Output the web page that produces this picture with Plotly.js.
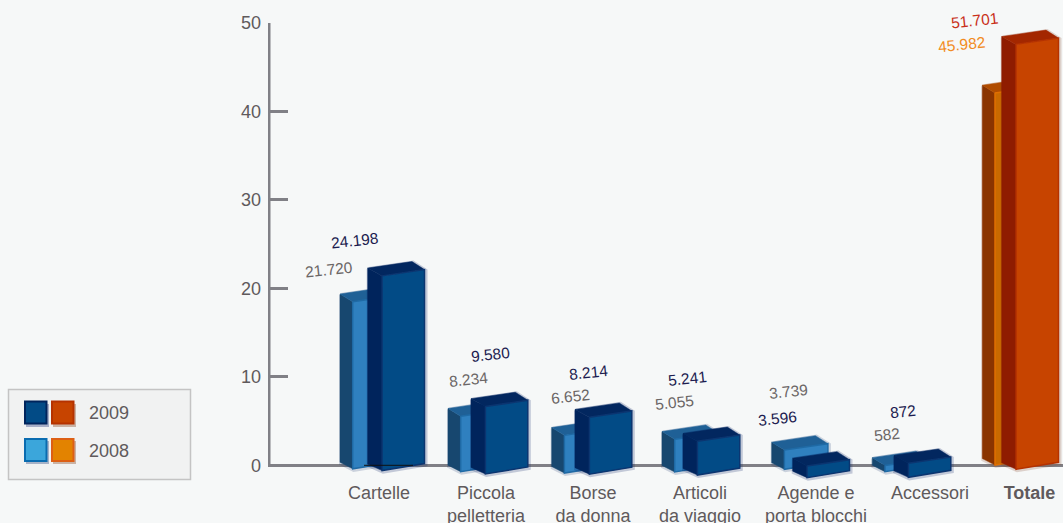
<!DOCTYPE html>
<html><head><meta charset="utf-8">
<script src="https://cdn.plot.ly/plotly-3.0.1.min.js"></script>
<style>html,body{margin:0;padding:0;background:#f6f8f8}#c{width:1063px;height:523px}</style>
</head><body><div id="c"></div>
<script>
// ---- data ----
const categories = ['Cartelle','Piccola<br>pelletteria','Borse<br>da donna','Articoli<br>da viaggio','Agende e<br>porta blocchi','Accessori','<b>Totale</b>'];
const labels2009 = ['24.198','9.580','8.214','5.241','3.596','872','51.701'];
const labels2008 = ['21.720','8.234','6.652','5.055','3.739','582','45.982'];
const top2009  = [23.03, 8.26, 7.05, 4.33, 1.54, 1.84, 49.2];
const base2009 = [-0.6, -0.98, -1.0, -1.1, -1.4, -1.36, -0.45];
const top2008  = [20.1, 7.16, 5.0, 4.56, 3.35, 1.6, 43.7];
const base2008 = [-0.4, -0.72, -0.87, -0.75, -0.45, -0.72, 0.03];
const yTicks = [0,10,20,30,40,50];
// ---- placement along the (pixel-scaled) x axis ----
const tickPos  = [379,486,593,700,816,930,1029.5];
const left2009 = [367.7,471,575,683,792.7,894,1001.7];
const left2008 = [340,448,551.7,662,771.7,872.3,982.3];
const label2009Pos = [[354.5,240],[490,354.5],[588,372],[687,378],[777,418],[903,411],[974,21]];
const label2008Pos = [[329,269],[468,379],[570,396],[674,402],[788,391],[887,434],[961,45]];

const W=1063,H=523,PL=268,PT=23,ZERO=465.3,PB=41;   // plot area runs past the zero line so the 3D feet are not clipped
const pxPerUnit=(ZERO-PT)/50;
const u=p=>p/pxPerUnit;
const px=x=>(x-PL)/(W-PL), py=y=>(H-PB-y)/(H-PB-PT);

const blue09={shadow:'rgba(10,30,100,0.22)',side:'#00245c',top:'#02275f',face:'#024b86',edge:'#0b3570'};
const blue08={shadow:'rgba(10,40,100,0.18)',side:'#17476f',top:'#1f6096',face:'#2f80bf',edge:'#1f6aa5'};
const org09={shadow:'rgba(120,50,20,0.20)',side:'#8f1c00',top:'#a32700',face:'#c74400',edge:'#b53200'};
const org08={shadow:'rgba(120,50,20,0.18)',side:'#8a3400',top:'#b04c00',face:'#c96a00',edge:'#e06f00'};

const traces=[];
function poly(xs,ys,fill,line,lw){
  traces.push({type:'scatter',mode:'lines',x:xs.concat(xs[0]),y:ys.concat(ys[0]),fill:'toself',fillcolor:fill,
    line:{color:line||fill,width:lw===undefined?0.5:lw},hoverinfo:'skip',showlegend:false});
}
function bar3d(L,sideW,faceW,top,base,c){
  const I=L+sideW,R=I+faceW,B=L+sideW+faceW-12.5;
  const tl=top-u(6.5),tr=top-u(8),ti=top-u(14.3);
  const bi=base,bl=base+u(6.5),br=base+u(7);
  const d=1,dv=u(1);
  traces.push({type:'scatter',mode:'lines',x:[L,B,R,R,I,L,L].map(v=>v+d),y:[tl,top,tr,br,bi,bl,tl].map(v=>v-dv),line:{color:c.shadow,width:4},hoverinfo:'skip',showlegend:false});
  poly([L,I,I,L],[tl,ti,bi,bl],c.side);
  poly([L,B,R,I],[tl,top,tr,ti],c.top);
  poly([I,R,R,I],[ti,tr,br,bi],c.face,c.edge,1.5);
}
categories.forEach((_,i)=>{
  bar3d(left2008[i],12.7,43.5,top2008[i],base2008[i],i===6?org08:blue08);
});
categories.forEach((_,i)=>{
  bar3d(left2009[i],14.4,42.4,top2009[i],base2009[i],i===6?org09:blue09);
});

const annotations=[];
const note=(t,x,y,color,size,angle,xa)=>annotations.push({text:t,xref:'paper',yref:'paper',x:px(x),y:py(y),
  showarrow:false,font:{family:'Liberation Sans, Arial, sans-serif',size:size,color:color},textangle:angle||0,xanchor:xa||'center',yanchor:'middle'});
categories.forEach((_,i)=>{
  note(labels2009[i],label2009Pos[i][0],label2009Pos[i][1],i===6?'#c9301a':'#1c1c50',15.5,-6);
  note(labels2008[i],label2008Pos[i][0],label2008Pos[i][1],i===6?'#f28c1e':'#6b6666',15.5,-6);
});
note('2009',87,413,'#5f5a5c',18,0,'left');
note('2008',87,451,'#5f5a5c',18,0,'left');

const rect=(x0,y0,x1,y1,fill,line,lw)=>({type:'rect',xref:'paper',yref:'paper',x0:px(x0),x1:px(x1),y0:py(y0),y1:py(y1),
  fillcolor:fill,line:{color:line||fill,width:lw||0},layer:'above'});
const shapes=[
  {type:'line',xref:'x',yref:'y',x0:269,x1:269,y0:-0.17,y1:50.17,line:{color:'#808086',width:3},layer:'below'},
  rect(8.5,389.5,190.5,479.5,'#f1f2f2','#c4c4c4',1.5),
  rect(26,404,49,427,'rgba(30,50,120,0.35)'),
  rect(53,404,76,427,'rgba(130,60,20,0.35)'),
  rect(26,441,49,464,'rgba(30,60,120,0.35)'),
  rect(53,441,76,464,'rgba(130,60,20,0.35)'),
  rect(25,401.5,46.5,423.5,'#024b86','#00245c',2),
  rect(52,401.5,73.5,423.5,'#c74400','#b53200',2),
  rect(25,439,46.5,461,'#3ba6db','#0a6cb0',2),
  rect(52,439,73.5,461,'#e38300','#dd5f14',2),
  {type:'line',xref:'x',yref:'y',x0:364,x1:413,y0:0,y1:0,line:{color:'#111',width:1},layer:'above'}
];

Plotly.newPlot('c',traces,{
  width:W,height:H,margin:{l:PL,r:0,t:PT,b:PB,pad:0},
  paper_bgcolor:'#f6f8f8',plot_bgcolor:'rgba(0,0,0,0)',showlegend:false,
  font:{family:'Liberation Sans, Arial, sans-serif',color:'#5f5a5c',size:18},
  xaxis:{range:[PL,W],fixedrange:true,showgrid:false,zeroline:false,showline:false,
    tickmode:'array',tickvals:tickPos,ticktext:categories,ticks:'',ticklabelstandoff:-2,tickangle:0,tickfont:{size:18,color:'#5f5a5c'}},
  yaxis:{range:[-(H-PB-ZERO)/pxPerUnit,50],fixedrange:true,showgrid:false,zeroline:true,zerolinecolor:'#808086',zerolinewidth:3,showline:false,layer:'below traces',
    tickmode:'array',tickvals:yTicks,ticks:'inside',ticklen:20,tickwidth:3,tickcolor:'#808086',ticklabelstandoff:6,tickfont:{size:18,color:'#5f5a5c'}},
  shapes,annotations
},{staticPlot:true,displayModeBar:false});
</script></body></html>
